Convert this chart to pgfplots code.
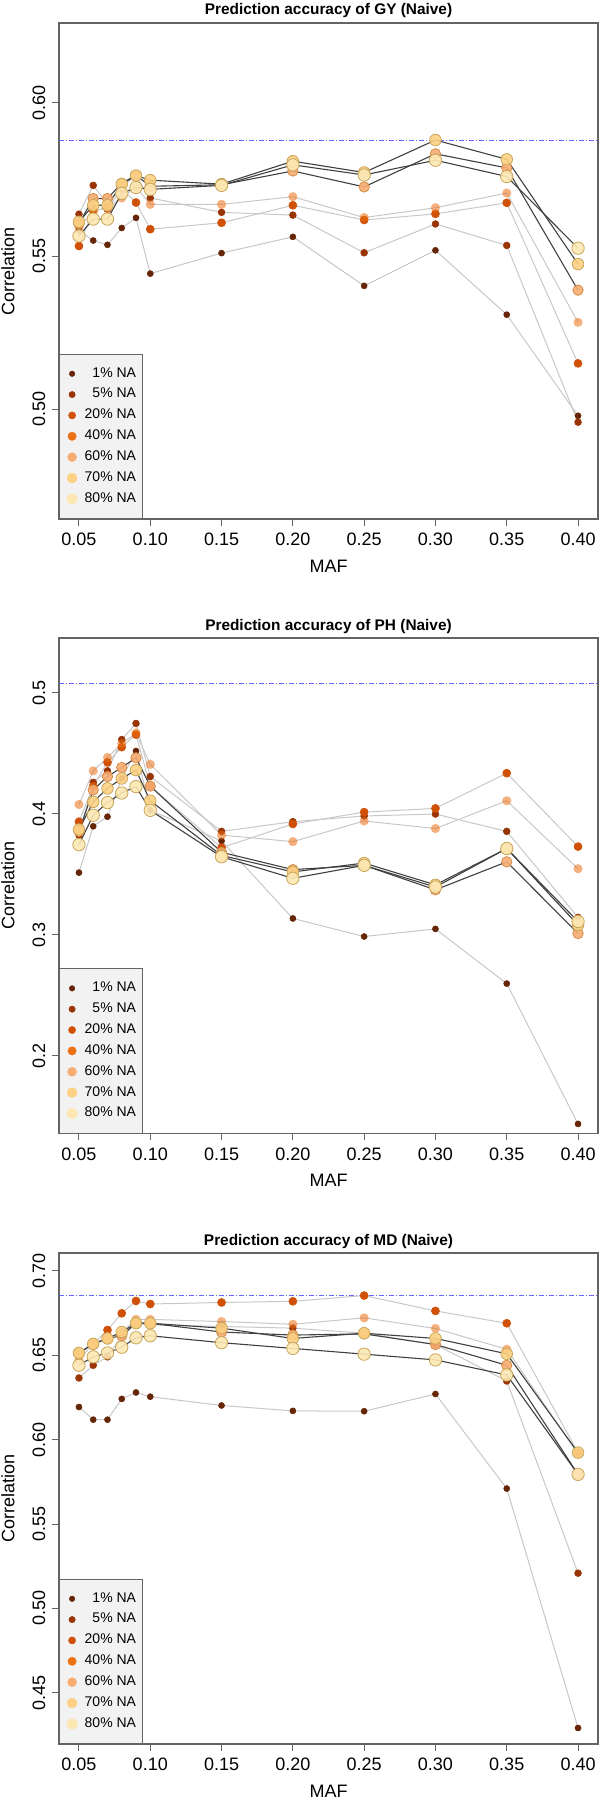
\documentclass[border=0pt]{standalone}
\usepackage{fontspec}
\setmainfont{Liberation Sans}
\usepackage{pgfplots}
\usepackage{pgfplotstable}
\pgfplotsset{compat=1.18}

\definecolor{c1}{RGB}{102,37,6}
\definecolor{c2}{RGB}{153,52,4}
\definecolor{c3}{RGB}{208,80,6}
\definecolor{c4}{RGB}{236,112,20}
\definecolor{c5}{RGB}{247,173,114}
\definecolor{c6}{RGB}{252,209,131}
\definecolor{c7}{RGB}{253,232,180}
\definecolor{e5}{RGB}{214,140,70}
\definecolor{e67}{RGB}{200,165,90}
\definecolor{lgrey}{RGB}{200,200,200}
\definecolor{dgrey}{RGB}{64,64,64}
\definecolor{axiscol}{RGB}{100,100,100}
\definecolor{refblue}{RGB}{100,100,255}
\definecolor{legbg}{RGB}{242,242,242}

\pgfplotstableread{
maf  a1     a2     a3     a4     a5     a6     a7
0.05 0.5585 0.5637 0.5533 0.5595 0.5606 0.5612 0.5566
0.06 0.5551 0.5731 0.5650 0.5646 0.5688 0.5666 0.5621
0.07 0.5537 0.5670 0.5655 0.5660 0.5688 0.5666 0.5621
0.08 0.5592 0.5730 0.5720 0.5690 0.5738 0.5735 0.5705
0.09 0.5625 0.5760 0.5675 0.5725 0.5764 0.5763 0.5724
0.10 0.5443 0.5690 0.5588 0.5669 0.5728 0.5748 0.5718
0.15 0.5510 0.5643 0.5609 0.5669 0.5733 0.5735 0.5731
0.20 0.5563 0.5634 0.5666 0.5694 0.5778 0.5810 0.5798
0.25 0.5403 0.5511 0.5618 0.5626 0.5726 0.5773 0.5765
0.30 0.5519 0.5605 0.5638 0.5658 0.5834 0.5879 0.5813
0.35 0.5309 0.5535 0.5674 0.5706 0.5788 0.5816 0.5760
0.40 0.4979 0.4958 0.5150 0.5284 0.5389 0.5474 0.5526
}\gy

\pgfplotstableread{
maf  a1     a2     a3     a4     a5     a6     a7
0.05 0.3514 0.3824 0.3935 0.4077 0.3855 0.3870 0.3745
0.06 0.3897 0.4260 0.4229 0.4355 0.4197 0.4099 0.3988
0.07 0.3976 0.4355 0.4425 0.4466 0.4308 0.4210 0.4093
0.08 0.4292 0.4614 0.4551 0.4580 0.4383 0.4292 0.4172
0.09 0.4519 0.4747 0.4655 0.4668 0.4463 0.4361 0.4225
0.10 0.4029 0.4308 0.4229 0.4409 0.4229 0.4108 0.4029
0.15 0.3776 0.3855 0.3720 0.3824 0.3682 0.3656 0.3645
0.20 0.3135 0.3935 0.3916 0.3770 0.3539 0.3520 0.3467
0.25 0.2986 0.3982 0.4014 0.3941 0.3574 0.3593 0.3574
0.30 0.3049 0.3998 0.4045 0.3878 0.3372 0.3413 0.3395
0.35 0.2597 0.3855 0.4336 0.4108 0.3603 0.3713 0.3713
0.40 0.1437 0.3144 0.3729 0.3546 0.3011 0.3081 0.3110
}\ph

\pgfplotstableread{
maf  a1     a2     a3     a4     a5     a6     a7
0.05 0.6193 0.6365 0.6513 0.6472 0.6513 0.6513 0.6440
0.06 0.6118 0.6440 0.6567 0.6567 0.6567 0.6567 0.6490
0.07 0.6118 0.6490 0.6649 0.6599 0.6599 0.6599 0.6513
0.08 0.6241 0.6615 0.6748 0.6637 0.6615 0.6637 0.6547
0.09 0.6279 0.6689 0.6821 0.6712 0.6689 0.6689 0.6603
0.10 0.6254 0.6680 0.6803 0.6712 0.6689 0.6689 0.6615
0.15 0.6202 0.6670 0.6812 0.6699 0.6637 0.6660 0.6574
0.20 0.6170 0.6660 0.6819 0.6683 0.6619 0.6599 0.6540
0.25 0.6168 0.6630 0.6853 0.6721 0.6626 0.6630 0.6506
0.30 0.6270 0.6563 0.6762 0.6658 0.6563 0.6599 0.6472
0.35 0.5710 0.6347 0.6689 0.6535 0.6440 0.6508 0.6383
0.40 0.4292 0.5209 0.5923 0.5914 0.5794 0.5923 0.5794
}\md

\pgfplotsset{
  l1/.style={lgrey, line width=0.5pt},
  l2/.style={lgrey, line width=0.5pt},
  l3/.style={lgrey, line width=0.5pt},
  l4/.style={lgrey, line width=0.5pt},
  l5/.style={dgrey, line width=0.55pt},
  l6/.style={dgrey, line width=0.55pt},
  l7/.style={dgrey, line width=0.55pt},
  m1/.style={mark=*, mark size=1.5pt, mark options={fill=c1, draw=c1, line width=0.3pt}},
  m2/.style={mark=*, mark size=1.7pt, mark options={fill=c2, draw=c2, line width=0.3pt}},
  m3/.style={mark=*, mark size=2.0pt, mark options={fill=c3, draw=c3, line width=0.3pt}},
  m4/.style={mark=*, mark size=2.3pt, mark options={fill=c4, fill opacity=0.55, draw=c4, draw opacity=0}},
  m5/.style={mark=*, mark size=2.6pt, mark options={fill=c5, fill opacity=0.9, draw=e5, line width=0.4pt}},
  m6/.style={mark=*, mark size=2.9pt, mark options={fill=c6, fill opacity=0.9, draw=e67, line width=0.4pt}},
  m7/.style={mark=*, mark size=3.1pt, mark options={fill=c7, fill opacity=0.9, draw=e67, line width=0.4pt}},
  lg1/.style={mark=*, mark size=1.4pt, mark options={fill=c1, draw=c1, line width=0.2pt}},
  lg2/.style={mark=*, mark size=1.6pt, mark options={fill=c2, draw=c2, line width=0.2pt}},
  lg3/.style={mark=*, mark size=1.8pt, mark options={fill=c3, draw=c3, line width=0.2pt}},
  lg4/.style={mark=*, mark size=2.1pt, mark options={fill=c4, draw=c4, line width=0.2pt}},
  lg5/.style={mark=*, mark size=2.25pt, mark options={fill=c5, draw=c5, line width=0.2pt}},
  lg6/.style={mark=*, mark size=2.5pt, mark options={fill=c6, draw=c6, line width=0.2pt}},
  lg7/.style={mark=*, mark size=2.7pt, mark options={fill=c7, draw=c7, line width=0.2pt}},
  panel/.style={
    scale only axis, width=269.5pt, anchor=north west,
    xmin=0.036, xmax=0.414,
    axis line style={axiscol, line width=0.6pt},
    tick style={axiscol, line width=0.5pt},
    tick align=outside, major tick length=3.3pt,
    xtick pos=left, ytick pos=left, minor tick num=0,
    xtick={0.05,0.10,0.15,0.20,0.25,0.30,0.35,0.40},
    xticklabels={0.05,0.10,0.15,0.20,0.25,0.30,0.35,0.40},
    ticklabel style={font=\fontsize{9}{10}\selectfont, inner sep=0pt},
    xticklabel style={yshift=-3.5pt, anchor=north},
    yticklabel style={xshift=-3.3pt, rotate=90, anchor=south},
    xlabel={MAF}, ylabel={Correlation},
    label style={font=\fontsize{9}{10}\selectfont},
    xlabel style={at={(axis description cs:0.5,0)}, anchor=center, yshift=-23.5pt},
    ylabel style={at={(axis description cs:-0.0946,0.5)}, anchor=center},
    title style={at={(axis description cs:0.5,1)}, anchor=center, font=\bfseries\fontsize{7.7}{9}\selectfont},
    legend style={at={(0,0)}, anchor=south west, draw=axiscol, fill=legbg, line width=0.5pt,
      inner xsep=3.2pt, inner ysep=6.6pt, row sep=4.05pt, column sep=3.2pt,
      font=\fontsize{7}{8}\selectfont},
    legend cell align=right,
    legend image code/.code={\path[draw=none,fill=none] (-3.1pt,-3.1pt) rectangle (3.1pt,3.1pt); \draw[only marks] plot coordinates {(0pt,0pt)};},
  }
}

\newcommand{\drawseries}[2]{%
  \addplot[l#2, forget plot] table[x=maf,y=a#2]{#1};
  \addplot[m#2, only marks, forget plot] table[x=maf,y=a#2]{#1};
}
\newcommand{\drawall}[1]{%
  \drawseries{#1}{1}\drawseries{#1}{2}\drawseries{#1}{3}\drawseries{#1}{4}%
  \drawseries{#1}{5}\drawseries{#1}{6}\drawseries{#1}{7}%
}
\newcommand{\legendall}{%
  \addlegendimage{lg1}\addlegendentry[inner sep=0pt]{1\% NA}
  \addlegendimage{lg2}\addlegendentry[inner sep=0pt]{5\% NA}
  \addlegendimage{lg3}\addlegendentry[inner sep=0pt]{20\% NA}
  \addlegendimage{lg4}\addlegendentry[inner sep=0pt]{40\% NA}
  \addlegendimage{lg5}\addlegendentry[inner sep=0pt]{60\% NA}
  \addlegendimage{lg6}\addlegendentry[inner sep=0pt]{70\% NA}
  \addlegendimage{lg7}\addlegendentry[inner sep=0pt]{80\% NA}
}

\begin{document}
\begin{tikzpicture}
\useasboundingbox (0pt,0pt) rectangle (300pt,-902.5pt);

\begin{axis}[panel, at={(29.5pt,-11.5pt)}, height=248pt,
  ymin=0.4642, ymax=0.6261,
  ytick={0.50,0.55,0.60}, yticklabels={0.50,0.55,0.60},
  title={Prediction accuracy of GY (Naive)}, title style={yshift=0.3pt}]
\addplot[refblue, line width=0.5pt, dash pattern=on 2.5pt off 1pt on 0.5pt off 1pt, forget plot] coordinates {(0.036,0.5879) (0.414,0.5879)};
\drawall{\gy}
\legendall
\end{axis}

\begin{axis}[panel, at={(29.5pt,-319pt)}, height=247.8pt,
  ymin=0.1357, ymax=0.5453,
  ytick={0.2,0.3,0.4,0.5}, yticklabels={0.2,0.3,0.4,0.5},
  title={Prediction accuracy of PH (Naive)}, title style={yshift=-0.2pt}]
\addplot[refblue, line width=0.5pt, dash pattern=on 2.5pt off 1pt on 0.5pt off 1pt, forget plot] coordinates {(0.036,0.5079) (0.414,0.5079)};
\drawall{\ph}
\legendall
\end{axis}

\begin{axis}[panel, at={(29.5pt,-626.5pt)}, height=245.5pt,
  ymin=0.4197, ymax=0.7105,
  ytick={0.45,0.50,0.55,0.60,0.65,0.70}, yticklabels={0.45,0.50,0.55,0.60,0.65,0.70},
  title={Prediction accuracy of MD (Naive)}, title style={yshift=-0.2pt}]
\addplot[refblue, line width=0.5pt, dash pattern=on 2.5pt off 1pt on 0.5pt off 1pt, forget plot] coordinates {(0.036,0.6853) (0.414,0.6853)};
\drawall{\md}
\legendall
\end{axis}
\end{tikzpicture}
\end{document}
